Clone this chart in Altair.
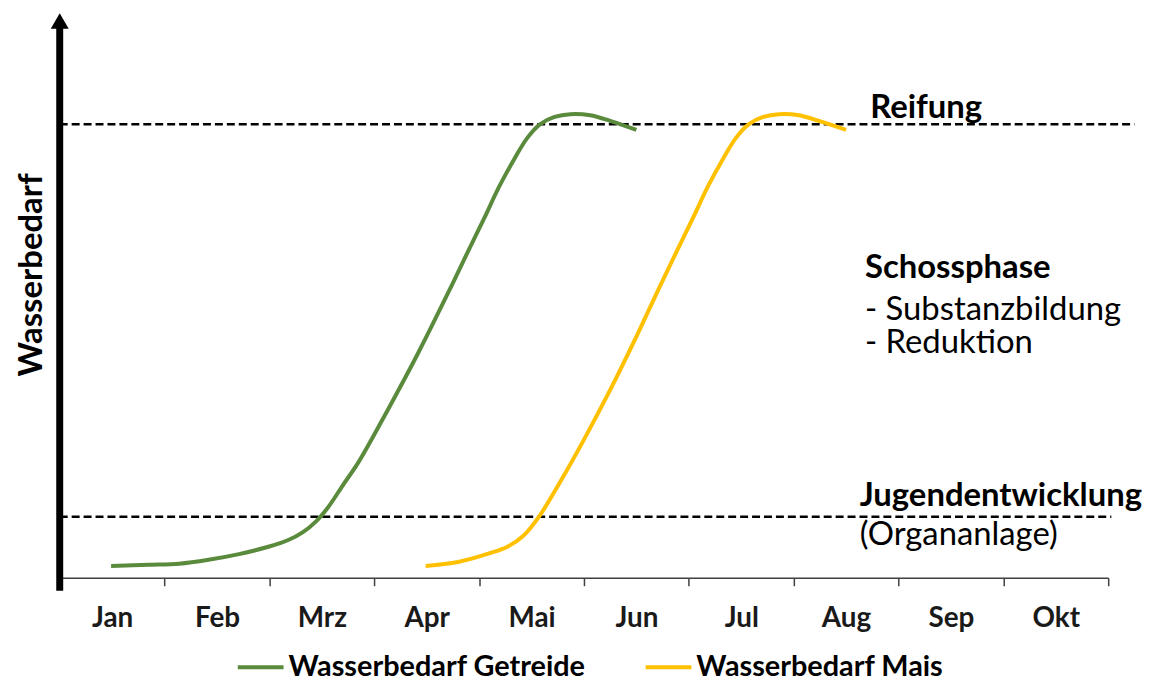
import json
import altair as alt
import pandas as pd

# ---------------- data ----------------
months = ["Jan", "Feb", "Mrz", "Apr", "Mai", "Jun", "Jul", "Aug", "Sep", "Okt"]
series_names = ["Wasserbedarf Getreide", "Wasserbedarf Mais"]
series_colors = ["#5a8a3c", "#ffc000"]

getreide_x = [0.49, 0.85, 1.14, 1.42, 1.71, 1.99, 2.18, 2.32, 2.45, 2.56, 2.70, 2.85,
              3.13, 3.42, 3.73, 3.89, 4.05, 4.19, 4.34, 4.46, 4.58, 4.72, 4.87,
              5.06, 5.25, 5.50]
getreide_y = [2.1, 2.3, 2.5, 3.2, 4.2, 5.5, 6.7, 8.1, 10.1, 12.5, 16.4, 20.5,
              29.8, 39.9, 51.5, 57.7, 63.8, 69.3, 74.4, 78.0, 80.4, 81.7, 82.2,
              82.0, 81.0, 79.4]

mais_x = [3.49, 3.80, 4.11, 4.27, 4.42, 4.57, 4.77, 5.00, 5.25, 5.47, 5.72, 5.88,
          6.04, 6.18, 6.33, 6.45, 6.57, 6.71, 6.86, 7.05, 7.24, 7.50]
mais_y = [2.1, 2.8, 4.4, 5.5, 7.4, 10.8, 16.9, 24.5, 33.3, 41.6, 51.5, 57.7,
          63.8, 69.3, 74.4, 78.0, 80.4, 81.7, 82.2, 82.0, 81.0, 79.4]

phase_names = ["Reifung", "Jugendentwicklung"]
phase_levels = [80.4, 10.8]
phase_end = [10.25, 10.03]

ann_text = ["Reifung", "Schossphase", "- Substanzbildung", "- Reduktion",
            "Jugendentwicklung", "(Organanlage)"]
ann_x = [7.73, 7.68, 7.68, 7.68, 7.63, 7.63]
ann_y = [81.5, 53.1, 45.7, 39.9, 12.7, 5.8]
ann_bold = [True, True, False, False, True, False]

# ---------------- tables ----------------
rows = []
for i, (x, y) in enumerate(zip(getreide_x, getreide_y)):
    rows.append({"series": series_names[0], "x": x, "y": y, "idx": i})
for i, (x, y) in enumerate(zip(mais_x, mais_y)):
    rows.append({"series": series_names[1], "x": x, "y": y, "idx": i})
df_lines = pd.DataFrame(rows)

df_phase = pd.DataFrame({"name": phase_names, "y": phase_levels,
                         "x0": [0] * len(phase_names), "x1": phase_end})
df_ann = pd.DataFrame({"text": ann_text, "x": ann_x, "y": ann_y, "bold": ann_bold})
df_dummy = pd.DataFrame({"a": [0]})

FONT = "Lato"

x_scale = alt.Scale(domain=[0, 10], nice=False, zero=False)
y_scale = alt.Scale(domain=[0, 100], nice=False, zero=False)

label_expr = "datum.value < 10 ? " + json.dumps(months) + "[datum.value] : ''"
x_axis = alt.Axis(values=list(range(11)), labelExpr=label_expr, labelOffset=52.7,
                  tickSize=8, tickColor="#404040", tickWidth=1.5,
                  domainColor="#404040", domainWidth=1.5,
                  labelFont=FONT, labelFontWeight="bold", labelFontSize=28,
                  labelColor="#1a1a1a", labelBaseline="alphabetic", labelPadding=41,
                  labelFlush=False, labelOverlap=False, grid=False, title=None)
y_axis = alt.Axis(domain=False, ticks=False, labels=False, grid=False,
                  title="Wasserbedarf", titleFont=FONT, titleFontSize=33,
                  titleFontWeight="bold", titleColor="black", titleAngle=270,
                  titleX=-18, titleY=262, titleAlign="center",
                  titleBaseline="alphabetic")

lines = alt.Chart(df_lines).mark_line(strokeWidth=4, interpolate="catmull-rom").encode(
    x=alt.X("x:Q", scale=x_scale, axis=x_axis),
    y=alt.Y("y:Q", scale=y_scale, axis=y_axis),
    color=alt.Color("series:N",
                    scale=alt.Scale(domain=series_names, range=series_colors),
                    legend=alt.Legend(title=None, orient="none", legendX=177, legendY=632,
                                      direction="horizontal", symbolType="stroke",
                                      symbolSize=2116, symbolStrokeWidth=4,
                                      labelFont=FONT, labelFontSize=29,
                                      labelFontWeight="bold", labelColor="black",
                                      labelOffset=3, columnPadding=52, padding=0,
                                      labelLimit=500)),
    order=alt.Order("idx:Q"),
)

phases = alt.Chart(df_phase).mark_rule(color="black", strokeWidth=2.5,
                                       strokeDash=[8, 4]).encode(
    x=alt.X("x0:Q", scale=x_scale, axis=x_axis),
    x2="x1:Q",
    y=alt.Y("y:Q", scale=y_scale, axis=y_axis),
)

ann_bold_layer = alt.Chart(df_ann).transform_filter("datum.bold").mark_text(
    font=FONT, fontSize=33, fontWeight="bold", align="left",
    baseline="alphabetic", color="black").encode(
    x=alt.X("x:Q", scale=x_scale, axis=x_axis),
    y=alt.Y("y:Q", scale=y_scale, axis=y_axis),
    text="text:N",
)
ann_reg_layer = alt.Chart(df_ann).transform_filter("!datum.bold").mark_text(
    font=FONT, fontSize=33, fontWeight="normal", align="left",
    baseline="alphabetic", color="black").encode(
    x=alt.X("x:Q", scale=x_scale, axis=x_axis),
    y=alt.Y("y:Q", scale=y_scale, axis=y_axis),
    text="text:N",
)

y_bar = alt.Chart(df_dummy).mark_rule(color="black", strokeWidth=7).encode(
    x=alt.value(0), y=alt.value(13), y2=alt.value(580))
y_arrow = alt.Chart(df_dummy).mark_point(shape="triangle-up", filled=True, size=324,
                                         color="black", opacity=1).encode(
    x=alt.value(0), y=alt.value(7.4))

chart = alt.layer(phases, lines, ann_bold_layer, ann_reg_layer, y_bar, y_arrow).properties(
    width=1054, height=567,
    autosize=alt.AutoSizeParams(type="none"),
    padding={"left": 52, "top": 4, "right": 35, "bottom": 102},
    background="white",
).configure_view(strokeWidth=0)

chart.save("out.html", embed_options={"renderer": "svg", "actions": False})
